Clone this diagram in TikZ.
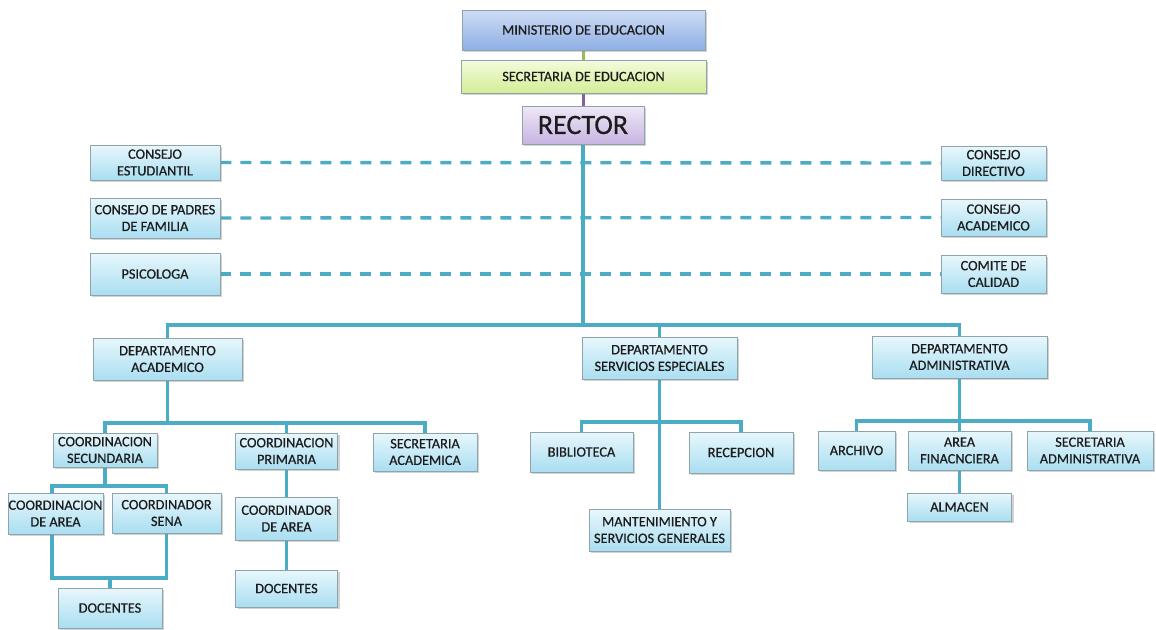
\documentclass[tikz,border=0pt]{standalone}
\usepackage{fontspec}
\setmainfont{Carlito}
\newfontfamily\boxfont{Carlito}[FakeBold=0.6]
\usetikzlibrary{shadows,backgrounds}
\definecolor{teal}{HTML}{4BACC6}
\definecolor{boxtop}{HTML}{E8F7FC}
\definecolor{boxbot}{HTML}{A9DEF1}
\definecolor{boxline}{HTML}{8FA3AB}
\definecolor{txt}{HTML}{1C1C1C}
\definecolor{bluetop}{HTML}{CFDDF5}
\definecolor{bluebot}{HTML}{8EAEE4}
\definecolor{greentop}{HTML}{F4FBDC}
\definecolor{greenbot}{HTML}{D3EE98}
\definecolor{purptop}{HTML}{EFE8F7}
\definecolor{purpbot}{HTML}{C7B4E2}
\definecolor{greenline}{HTML}{9BBB59}
\definecolor{purpline}{HTML}{8064A2}
\tikzset{
  box/.style={draw=boxline, line width=0.8pt, top color=boxtop, bottom color=boxbot,
    inner sep=0pt, align=center, text=txt,
    font=\boxfont\fontsize{14.3}{16.7}\selectfont,
    drop shadow={shadow xshift=2pt, shadow yshift=-2pt, opacity=0.35}},
  conn/.style={draw=teal, line width=3.4pt},
  dashline/.style={draw=teal, line width=3.4pt, dash pattern=on 11pt off 9pt},
}
\begin{document}
\begin{tikzpicture}[x=1pt,y=-1pt]
\useasboundingbox (0,0) rectangle (1156,629);

% top boxes
\node[box, top color=bluetop, bottom color=bluebot, minimum width=243pt, minimum height=40pt] (min) at (583.5,30) {MINISTERIO DE EDUCACION};
\node[box, top color=greentop, bottom color=greenbot, minimum width=245pt, minimum height=33pt] (sec) at (583.5,76.5) {SECRETARIA DE EDUCACION};
\node[box, top color=purptop, bottom color=purpbot, minimum width=122pt, minimum height=38pt, font=\boxfont\fontsize{28}{30}\selectfont] (rector) at (583,125) {RECTOR};

% side boxes
\node[box, minimum width=130pt, minimum height=35pt] (ce) at (155,162.5) {CONSEJO\\ESTUDIANTIL};
\node[box, minimum width=130pt, minimum height=40pt] (cp) at (155,218) {CONSEJO DE PADRES\\DE FAMILIA};
\node[box, minimum width=130pt, minimum height=42pt] (psi) at (155,274) {PSICOLOGA};
\node[box, minimum width=105pt, minimum height=34pt] (cd) at (993.5,163) {CONSEJO\\DIRECTIVO};
\node[box, minimum width=105pt, minimum height=37pt] (ca) at (993.5,217.5) {CONSEJO\\ACADEMICO};
\node[box, minimum width=105pt, minimum height=38pt] (cc) at (993.5,274) {COMITE DE\\CALIDAD};

% departments
\node[box, minimum width=149pt, minimum height=42pt] (dacad) at (167.5,359) {DEPARTAMENTO\\ACADEMICO};
\node[box, minimum width=155pt, minimum height=42pt] (dser) at (659.5,358) {DEPARTAMENTO\\SERVICIOS ESPECIALES};
\node[box, minimum width=175pt, minimum height=42pt] (dadm) at (959.5,357) {DEPARTAMENTO\\ADMINISTRATIVA};

% academic
\node[box, minimum width=104pt, minimum height=34pt] (csec) at (105,450) {COORDINACION\\SECUNDARIA};
\node[box, minimum width=102pt, minimum height=36pt] (cpri) at (286.5,451) {COORDINACION\\PRIMARIA};
\node[box, minimum width=104pt, minimum height=38pt] (sacad) at (425,452) {SECRETARIA\\ACADEMICA};
\node[box, minimum width=95pt, minimum height=41pt] (cda) at (55.5,513.5) {COORDINACION\\DE AREA};
\node[box, minimum width=109pt, minimum height=40pt] (csena) at (166.5,513) {COORDINADOR\\SENA};
\node[box, minimum width=104pt, minimum height=40pt] (doc1) at (110,608) {DOCENTES};
\node[box, minimum width=102pt, minimum height=43pt] (cdar) at (286.5,518.5) {COORDINADOR\\DE AREA};
\node[box, minimum width=102pt, minimum height=37pt] (doc2) at (286.5,588.5) {DOCENTES};

% servicios
\node[box, minimum width=103pt, minimum height=40pt] (bib) at (581.5,452) {BIBLIOTECA};
\node[box, minimum width=104pt, minimum height=41pt] (rec) at (741,452.5) {RECEPCION};
\node[box, minimum width=141pt, minimum height=42pt] (mant) at (659.5,530) {MANTENIMIENTO Y\\SERVICIOS GENERALES};

% admin
\node[box, minimum width=77pt, minimum height=39pt] (arch) at (856.5,450.5) {ARCHIVO};
\node[box, minimum width=103pt, minimum height=39pt] (afin) at (959.5,450.5) {AREA\\FINACNCIERA};
\node[box, minimum width=126pt, minimum height=39pt] (sadm) at (1090,450.5) {SECRETARIA\\ADMINISTRATIVA};
\node[box, minimum width=104pt, minimum height=28pt] (alm) at (959.5,507) {ALMACEN};

% bus junctions
\coordinate (b0) at (583,325);
\coordinate (b1) at (167.5,423);
\coordinate (b2) at (105,486);
\coordinate (b3) at (110,578);
\coordinate (b4) at (659.5,422);
\coordinate (b5) at (959.5,421);

\begin{scope}[on background layer]
\fill[white] (0,0) rectangle (1156,629);
\draw[draw=greenline, line width=3.2pt] (min.south) -- (sec.north);
\draw[draw=purpline, line width=3.2pt] (sec.south) -- (sec.south |- rector.north);
\draw[conn] (rector.south) -- (b0);
\draw[dashline] (ce.east) -- (cd.west);
\draw[dashline] (cp.east) -- (ca.west);
\draw[dashline] (psi.east) -- (cc.west);
\draw[conn] (dacad.north) |- (b0) -| (dadm.north);
\draw[conn] (dser.north) -- (dser.north |- b0);
\draw[conn] (dacad.south) -- (b1);
\draw[conn] (csec.north) |- (b1) -| (sacad.north);
\draw[conn] (cpri.north) -- (cpri.north |- b1);
\draw[conn] (csec.south) -- (b2);
\draw[conn] ([xshift=-3.5pt]cda.north) |- (b2) -| (csena.north);
\draw[conn] ([xshift=-3.5pt]cda.south) |- (b3) -| (csena.south);
\draw[conn] (b3) -- (doc1.north);
\draw[conn] (cpri.south) -- (cdar.north);
\draw[conn] (cdar.south) -- (doc2.north);
\draw[conn] (dser.south) -- (mant.north);
\draw[conn] (bib.north) |- (b4) -| (rec.north);
\draw[conn] (dadm.south) -- (afin.north);
\draw[conn] (arch.north) |- (b5) -| (sadm.north);
\draw[conn] (afin.south) -- (alm.north);
\end{scope}
\end{tikzpicture}
\end{document}
